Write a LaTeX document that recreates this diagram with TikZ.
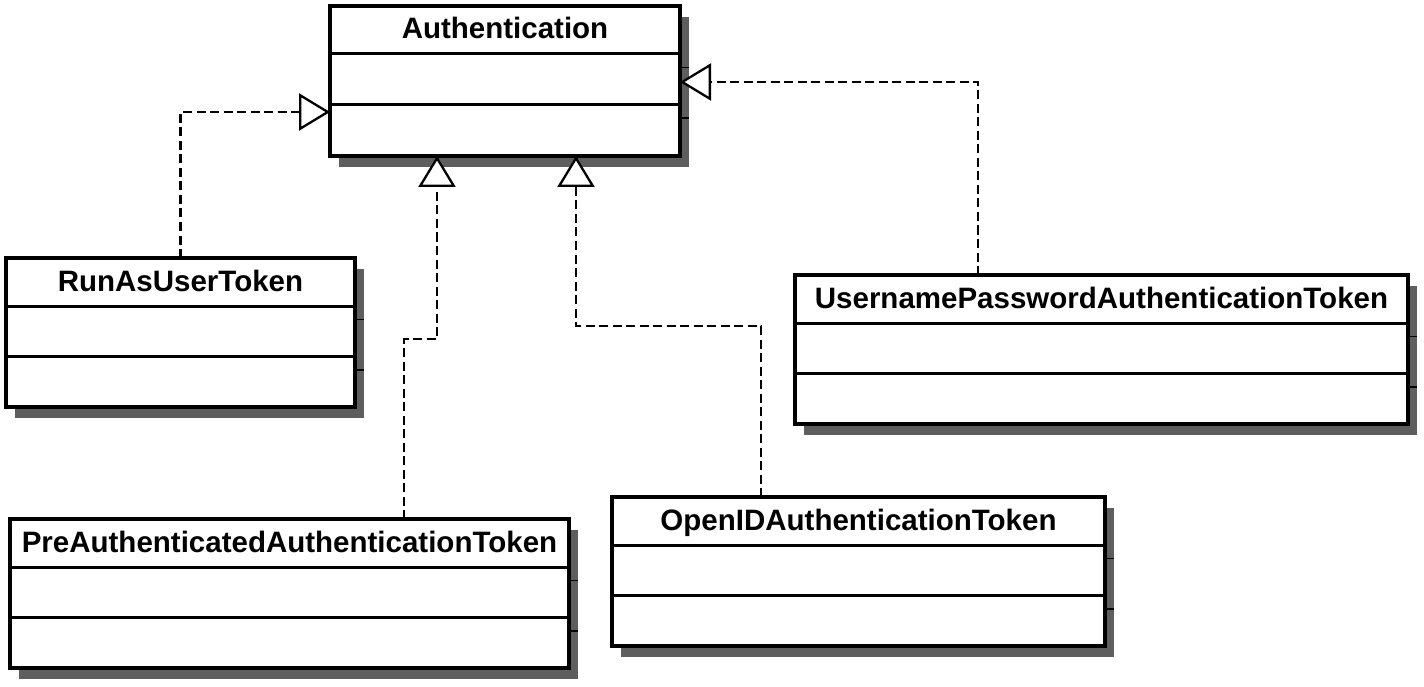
\documentclass[tikz,border=0pt]{standalone}
\usepackage{fontspec}
\setmainfont{Liberation Sans}
\usetikzlibrary{arrows.meta,calc,shadows}
\definecolor{shadowgray}{HTML}{5E5E5E}
\tikzset{
  cls/.style={draw, line width=3.5pt, fill=white, inner sep=0pt, outer sep=0pt,
    anchor=north west,
    general shadow={fill=shadowgray, shadow xshift=9pt, shadow yshift=-11pt}},
  ttl/.style={font=\bfseries\fontsize{29.5}{35}\selectfont, anchor=base, inner sep=0pt},
  rowline/.style={line width=3pt},
  tick/.style={line width=1.2pt},
  dep/.style={line width=2.3pt, dash pattern=on 9pt off 4.5pt},
  realize/.style={-{Triangle[open, fill=white, length=31pt, width=37pt, line width=2.3pt]}}
}
\begin{document}
\begin{tikzpicture}[x=1pt, y=-1pt]
\useasboundingbox[fill=white] (0,0) rectangle (1424,687);

% class boxes
\node[cls, minimum width=350pt, minimum height=150pt] (auth) at (330,6) {};
\node[cls, minimum width=349pt, minimum height=149pt] (runas) at (6,258) {};
\node[cls, minimum width=559pt, minimum height=149pt] (pre) at (10,519) {};
\node[cls, minimum width=493pt, minimum height=149pt] (openid) at (612,497) {};
\node[cls, minimum width=613pt, minimum height=149pt] (user) at (795,275) {};

% compartments and titles
\foreach \n/\t in {auth/Authentication, runas/RunAsUserToken,
    pre/PreAuthenticatedAuthenticationToken, openid/OpenIDAuthenticationToken,
    user/UsernamePasswordAuthenticationToken}{
  \draw[rowline] ($(\n.north west)+(0,48)$) -- ($(\n.north east)+(0,48)$);
  \draw[rowline] ($(\n.north west)+(0,98.5)$) -- ($(\n.north east)+(0,98.5)$);
  \draw[tick] ($(\n.north east)+(1.75,61.5)$) -- ++(7.25,0);
  \draw[tick] ($(\n.north east)+(1.75,112)$) -- ++(7.25,0);
  \node[ttl] (\n-title) at ($(\n.north)+(0,33)$) {\t};
}

% connection points
\coordinate (authL) at ($(auth.north west)+(0,106)$);
\coordinate (authR) at ($(auth.north east)+(0,76)$);
\coordinate (authB1) at ($(auth.south west)+(107,0)$);
\coordinate (authB2) at ($(auth.south west)+(246,0)$);
\coordinate (preTop) at ($(pre.north west)+(394,0)$);
\coordinate (openTop) at ($(openid.north west)+(149,0)$);
\coordinate (userTop) at ($(user.north west)+(183,0)$);

% realization connectors
\draw[dep, realize] (runas.north) |- (authL);
\draw[dep, realize] (userTop) |- (authR);
\draw[dep, realize] (preTop) -- ++(0,-180) -| (authB1);
\draw[dep, realize] (openTop) -- ++(0,-171) -| (authB2);
\end{tikzpicture}
\end{document}
